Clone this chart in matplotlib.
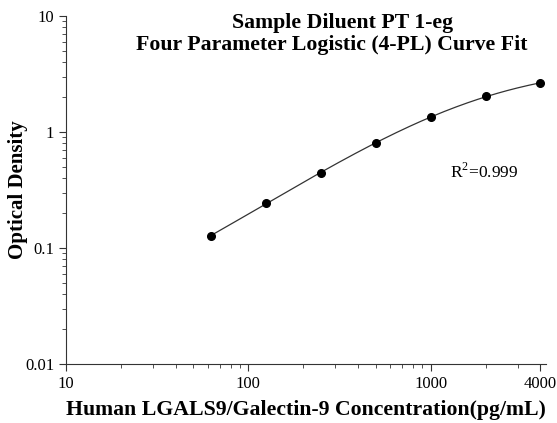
import numpy as np
import matplotlib
matplotlib.use('Agg')
import matplotlib.pyplot as plt
from matplotlib.ticker import FixedLocator, NullFormatter

plt.rcParams['font.family'] = ['Liberation Serif', 'DejaVu Serif']
plt.rcParams['mathtext.fontset'] = 'custom'
plt.rcParams['mathtext.rm'] = 'Liberation Serif'

conc = np.array([62.5, 125, 250, 500, 1000, 2000, 4000])
od = np.array([0.127, 0.244, 0.443, 0.80, 1.35, 2.04, 2.64])
x_ticks = [10, 100, 1000, 4000]
x_tick_labels = ["10", "100", "1000", "4000"]
y_ticks = [0.01, 0.1, 1, 10]
y_tick_labels = ["0.01", "0.1", "1", "10"]


def fit_4pl(x, y):
    """Coarse 4-PL fit: grid over B, C; linear least squares for A, D."""
    best = None
    for b in np.linspace(0.5, 2.5, 81):
        for c in np.logspace(2.5, 5, 121):
            g = 1.0 / (1.0 + (x / c) ** b)
            M = np.column_stack([g, 1 - g])
            coef, *_ = np.linalg.lstsq(M, y, rcond=None)
            pred = M @ coef
            if np.any(pred <= 0):
                continue
            err = np.sum((np.log(pred) - np.log(y)) ** 2)
            if best is None or err < best[0]:
                best = (err, coef[0], b, c, coef[1])
    return best[1:]


A, B, C, D = fit_4pl(conc, od)
xs = np.logspace(np.log10(conc[0]), np.log10(conc[-1]), 200)
ys = D + (A - D) / (1 + (xs / C) ** B)

fig = plt.figure(figsize=(5.57, 4.23), dpi=100)
ax = fig.add_axes([0.1185, 0.1395, 0.862, 0.8225])

ax.plot(xs, ys, color='#333333', linewidth=0.9)
ax.plot(conc, od, 'o', color='black', markersize=5.5)

ax.set_xscale('log')
ax.set_yscale('log')
ax.set_xlim(10, 4300)
ax.set_ylim(0.01, 10)

ax.xaxis.set_major_locator(FixedLocator(x_ticks))
ax.set_xticklabels(x_tick_labels)
ax.xaxis.set_minor_locator(FixedLocator([20, 30, 40, 50, 60, 70, 80, 90,
                                         200, 300, 400, 500, 600, 700, 800, 900,
                                         2000, 3000]))
ax.xaxis.set_minor_formatter(NullFormatter())
ax.yaxis.set_major_locator(FixedLocator(y_ticks))
ax.set_yticklabels(y_tick_labels)
ax.yaxis.set_minor_formatter(NullFormatter())

ax.spines['top'].set_visible(False)
ax.spines['right'].set_visible(False)
for s in ('left', 'bottom'):
    ax.spines[s].set_linewidth(0.8)
    ax.spines[s].set_color('#333333')
ax.tick_params(which='major', direction='out', length=5, width=0.8,
               labelsize=12, colors='#333333', labelcolor='black')
ax.tick_params(which='minor', direction='out', length=3, width=0.6,
               colors='#333333')

ax.set_xlabel("Human LGALS9/Galectin-9 Concentration(pg/mL)",
              fontsize=15.7, fontweight='bold', labelpad=6)
ax.set_ylabel("Optical Density", fontsize=15, fontweight='bold')
ax.yaxis.set_label_coords(-0.079, 0.5)

ax.text(0.577, 1.01, "Sample Diluent PT 1-eg",
        transform=ax.transAxes, ha='center', va='top', fontsize=15.7,
        fontweight='bold')
ax.text(0.553, 0.945, "Four Parameter Logistic (4-PL) Curve Fit",
        transform=ax.transAxes, ha='center', va='top', fontsize=15.7,
        fontweight='bold')
ax.text(0.80, 0.552, r"R$^2$=0.999", transform=ax.transAxes,
        ha='left', va='center', fontsize=12.5)

fig.savefig("out.png", dpi=100, facecolor='white')
